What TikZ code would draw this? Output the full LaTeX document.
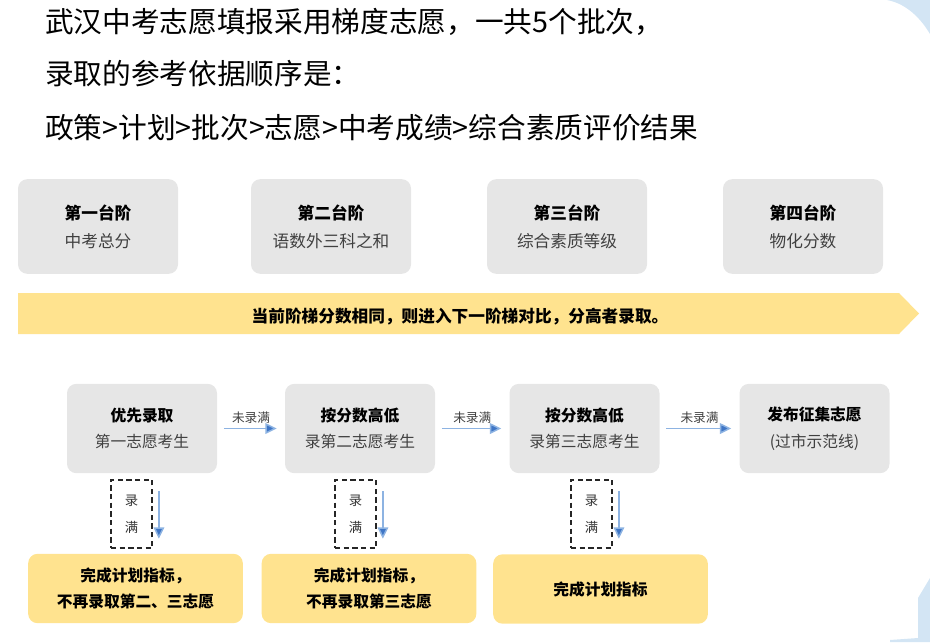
\documentclass[tikz,border=0pt]{standalone}
\usepackage{fontspec}
\setmainfont{Noto Sans CJK SC}
\usetikzlibrary{positioning,arrows.meta}

\definecolor{stepgray}{HTML}{E6E6E6}
\definecolor{plangold}{HTML}{FFE38F}
\definecolor{flowblue}{HTML}{3F76C6}
\definecolor{flowline}{HTML}{8DB3E2}
\definecolor{cornerblue}{HTML}{D3E5F4}
\definecolor{subgray}{HTML}{404040}

\tikzset{
  tier/.style={fill=stepgray, rounded corners=7pt, minimum width=120pt, minimum height=71pt,
    align=center, font=\fontsize{12.5}{21}\selectfont},
  round/.style={fill=stepgray, rounded corners=7pt, minimum width=112.5pt, minimum height=67pt,
    align=center, font=\fontsize{11.8}{20}\selectfont},
  quota/.style={fill=plangold, rounded corners=7pt, minimum width=161pt, minimum height=52pt,
    align=center, font=\bfseries\fontsize{11.8}{20}\selectfont},
  fullbox/.style={draw=black!85, dashed, dash pattern=on 4pt off 2.5pt, line width=1.1pt,
    minimum width=31pt, minimum height=51pt, align=center, font=\fontsize{10}{20}\selectfont, text=black!80},
  flow/.style={draw=flowline, line width=1.1pt, -{Triangle[length=8.5pt,width=8pt,fill=flowblue]},
    shorten <=5pt, shorten >=6pt},
  headline/.style={anchor=west, inner sep=0pt, font=\fontsize{21.5}{26}\selectfont}
}

\begin{document}
\begin{tikzpicture}[x=0.75pt,y=-0.75pt]
  \useasboundingbox (0,0) rectangle (930,642);
  % corner decorations
  \fill[cornerblue] (887,0) -- (930,0) -- (930,34) .. controls (918,14) and (903,3) .. (887,0) -- cycle;
  \fill[cornerblue] (930,578) -- (918,598) -- (918,638) -- (890,640) -- (890,642) -- (930,642) -- cycle;

  % heading
  \node[headline] (h1) at (45,22) {武汉中考志愿填报采用梯度志愿，一共5个批次，};
  \node[headline] (h2) at (45,74) {录取的参考依据顺序是：};
  \node[headline] (h3) at (45,128) {政策>计划>批次>志愿>中考成绩>综合素质评价结果};

  % four tiers
  \node[tier] (t1) at (98,226.5)  {\textbf{第一台阶}\\ \textcolor{subgray}{中考总分}};
  \node[tier] (t2) at (331,226.5) {\textbf{第二台阶}\\ \textcolor{subgray}{语数外三科之和}};
  \node[tier] (t3) at (567,226.5) {\textbf{第三台阶}\\ \textcolor{subgray}{综合素质等级}};
  \node[tier] (t4) at (803,226.5) {\textbf{第四台阶}\\ \textcolor{subgray}{物化分数}};

  % banner
  \fill[plangold] (18,293) -- (899,293) -- (919,313.5) -- (899,334) -- (18,334) -- cycle;
  \node[font=\bfseries\fontsize{12.5}{15}\selectfont] (rule) at (460,317)
    {当前阶梯分数相同，则进入下一阶梯对比，分高者录取。};

  % rounds
  \node[round] (r1) at (142,428.5) {\textbf{优先录取}\\ \textcolor{subgray}{第一志愿考生}};
  \node[round] (r2) at (360,428.5) {\textbf{按分数高低}\\ \textcolor{subgray}{录第二志愿考生}};
  \node[round] (r3) at (584.5,428.5) {\textbf{按分数高低}\\ \textcolor{subgray}{录第三志愿考生}};
  \node[round] (r4) at (814.5,428.5) {\textbf{发布征集志愿}\\ \textcolor{subgray}{(过市示范线)}};

  \path[flow,font=\fontsize{9.5}{11}\selectfont]
    (r1) edge node[above,text=subgray] {未录满} (r2)
    (r2) edge node[above,text=subgray] {未录满} (r3)
    (r3) edge node[above,text=subgray] {未录满} (r4);

  % filled boxes
  \node[fullbox] (f1) at (131.5,514) {录\\满};
  \node[fullbox] (f2) at (355.5,514) {录\\满};
  \node[fullbox] (f3) at (591.5,514) {录\\满};

  \node[quota] (q1) at (135.5,588.5) {完成计划指标，\\不再录取第二、三志愿};
  \node[quota] (q2) at (369,588.5)   {完成计划指标，\\不再录取第三志愿};
  \node[quota] (q3) at (600.5,589)   {完成计划指标};

  \foreach \f in {f1,f2,f3}
    \draw[flow,shorten <=0pt,shorten >=0pt]
      ([xshift=4.5pt,yshift=-9pt]\f.north east) -- ([xshift=4.5pt,yshift=7.5pt]\f.south east);
\end{tikzpicture}
\end{document}
